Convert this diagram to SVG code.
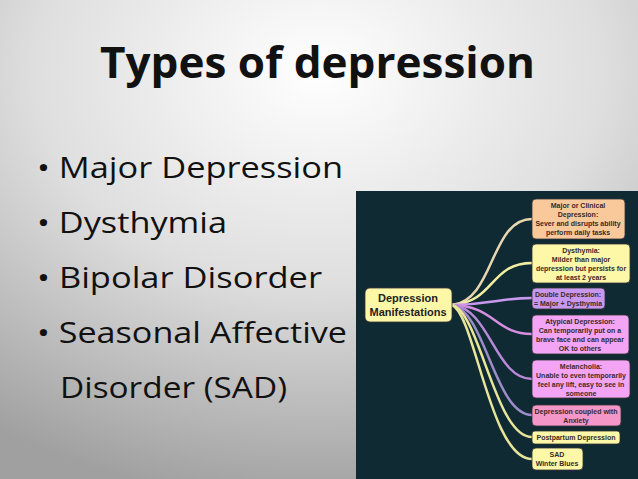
<svg xmlns="http://www.w3.org/2000/svg" width="638" height="479" viewBox="0 0 638 479">
<defs>
<radialGradient id="bg" cx="0.5" cy="0.15" r="0.9">
<stop offset="0" stop-color="#ffffff"/><stop offset="0.5" stop-color="#dedede"/><stop offset="1" stop-color="#a0a0a0"/>
</radialGradient>
<style>
.b{font-family:"Open Sans","Liberation Sans",sans-serif;font-size:29px;fill:#111}
.n{stroke:#333;stroke-width:0.8}
.t{font-family:"Liberation Sans",Arial,sans-serif;font-size:7px;font-weight:bold;fill:#3a2a2a;text-anchor:middle}
.c{fill:none;stroke-width:2.5;stroke-linecap:round}
</style>
</defs>
<rect width="638" height="479" fill="url(#bg)"/>
<text x="100" y="78" textLength="435" lengthAdjust="spacingAndGlyphs" style="font-family:'Open Sans','Liberation Sans',sans-serif;font-size:43px;font-weight:bold;fill:#111">Types of depression</text>
<text class="b" x="37" y="178" textLength="306" lengthAdjust="spacingAndGlyphs">• Major Depression</text>
<text class="b" x="37" y="233" textLength="190" lengthAdjust="spacingAndGlyphs">• Dysthymia</text>
<text class="b" x="37" y="288" textLength="285" lengthAdjust="spacingAndGlyphs">• Bipolar Disorder</text>
<text class="b" x="37" y="343" textLength="310" lengthAdjust="spacingAndGlyphs">• Seasonal Affective</text>
<text class="b" x="60" y="398" textLength="227" lengthAdjust="spacingAndGlyphs">Disorder (SAD)</text>
<rect x="356" y="191" width="282" height="288" fill="#0f2a33"/>
<g id="connectors">
<path class="c" stroke="#e8d6b0" d="M452,305 C495,300 490,219 532,219"/>
<path class="c" stroke="#f4eea0" d="M452,305 C495,302 490,263 532,263"/>
<path class="c" stroke="#c898f0" d="M452,305 C495,304 500,298 532,298"/>
<path class="c" stroke="#d68ee0" d="M452,305 C495,306 495,334 532,334"/>
<path class="c" stroke="#b889d8" d="M452,305 C490,308 495,379 532,379"/>
<path class="c" stroke="#9d8cc8" d="M452,305 C485,310 495,415 532,415"/>
<path class="c" stroke="#e8e49a" d="M452,305 C480,312 495,437 532,437"/>
<path class="c" stroke="#e8e49a" d="M452,305 C475,314 490,459 532,459"/>
</g>
<g id="center"><rect class="n" x="365" y="288" width="87" height="34" rx="5" fill="#fdf7a8"/>
<text x="408" y="302" text-anchor="middle" style="font-family:'Liberation Sans',sans-serif;font-size:11px;font-weight:bold;fill:#222">Depression</text>
<text x="408" y="316" text-anchor="middle" style="font-family:'Liberation Sans',sans-serif;font-size:11px;font-weight:bold;fill:#222">Manifestations</text></g>
<g id="major"><rect class="n" x="532" y="199" width="93" height="40" rx="4" fill="#f9c89b"/>
<text class="t" x="578" y="208">Major or Clinical</text><text class="t" x="578" y="217">Depression:</text><text class="t" x="578" y="226">Sever and disrupts ability</text><text class="t" x="578" y="235">perform daily tasks</text></g>
<g id="dysthymia"><rect class="n" x="532" y="244" width="98" height="39" rx="4" fill="#fdf7a8"/>
<text class="t" x="581" y="253">Dysthymia:</text><text class="t" x="581" y="262">Milder than major</text><text class="t" x="581" y="271">depression but persists for</text><text class="t" x="581" y="280">at least 2 years</text></g>
<g id="double"><rect class="n" x="532" y="288" width="73" height="21" rx="4" fill="#c898f0"/>
<text class="t" x="568" y="297">Double Depression:</text><text class="t" x="568" y="306">= Major + Dysthymia</text></g>
<g id="atypical"><rect class="n" x="532" y="315" width="97" height="39" rx="4" fill="#f4a4f4"/>
<text class="t" x="580" y="324">Atypical Depression:</text><text class="t" x="580" y="333">Can temporarily put on a</text><text class="t" x="580" y="342">brave face and can appear</text><text class="t" x="580" y="351">OK to others</text></g>
<g id="melancholia"><rect class="n" x="532" y="360" width="98" height="38" rx="4" fill="#f4a4f4"/>
<text class="t" x="581" y="369">Melancholia:</text><text class="t" x="581" y="378">Unable to even temporarily</text><text class="t" x="581" y="387">feel any lift, easy to see in</text><text class="t" x="581" y="396">someone</text></g>
<g id="anxiety"><rect class="n" x="532" y="405" width="89" height="21" rx="4" fill="#f496c8"/>
<text class="t" x="576" y="414">Depression coupled with</text><text class="t" x="576" y="423">Anxiety</text></g>
<g id="postpartum"><rect class="n" x="532" y="431" width="88" height="13" rx="3" fill="#fdf7a8"/>
<text class="t" x="576" y="440">Postpartum Depression</text></g>
<g id="sad"><rect class="n" x="532" y="448" width="51" height="22" rx="4" fill="#fdf7a8"/>
<text class="t" x="557" y="457">SAD</text><text class="t" x="557" y="466">Winter Blues</text></g>
</svg>
